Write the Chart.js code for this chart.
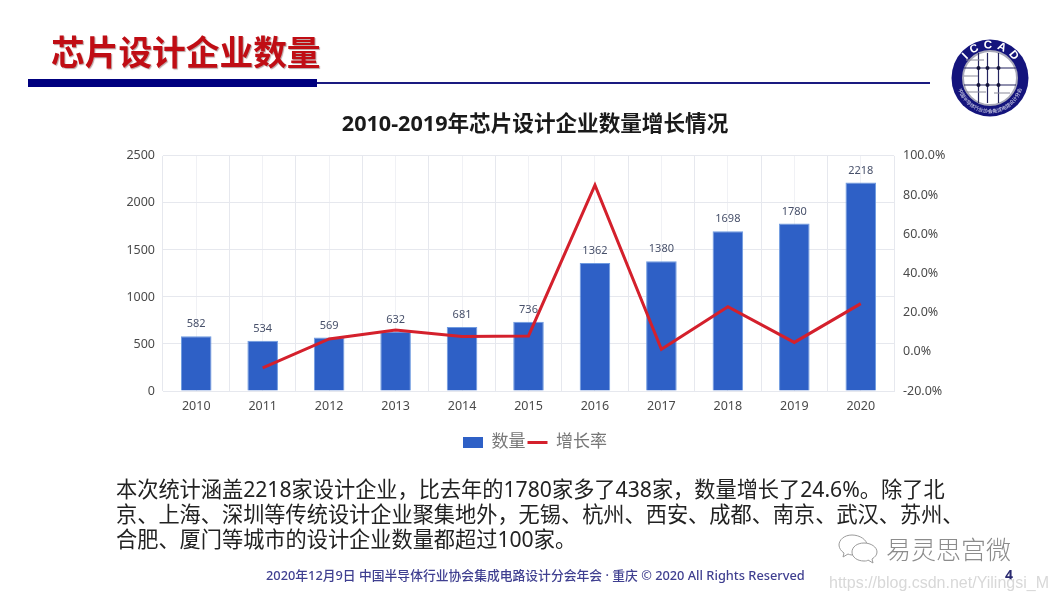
<!DOCTYPE html>
<html lang="zh-CN">
<head>
<meta charset="utf-8">
<title>芯片设计企业数量</title>
<script src="https://cdn.jsdelivr.net/npm/chart.js@4"></script>
<style>
  html, body { margin: 0; padding: 0; background: #fff; }
  body { width: 1057px; height: 602px; overflow: hidden; position: relative; font-family: "Noto Sans", "Noto Sans CJK SC", sans-serif; }
  #page { position: absolute; inset: 0; filter: blur(0.4px); }
  #page > * { position: absolute; }
  #chartBox { left: 100px; top: 112px; width: 870px; height: 349px; }
  #heading { left: 51px; top: 27px; font-family: "Noto Sans CJK SC", sans-serif; font-size: 33.7px; line-height: 48px; font-weight: 700; color: #c00d14; text-shadow: 1px 1px 1px #b9a0a0; white-space: nowrap; }
  #ruleThick { left: 28px; top: 79px; width: 289px; height: 8px; background: #00007f; }
  #ruleThin { left: 317px; top: 82px; width: 613px; height: 2px; background: #1a1a80; }
  #logo { left: 950px; top: 38px; }
  #notes { left: 116px; top: 476px; font-size: 21.2px; line-height: 25px; color: #222; white-space: nowrap; }
  #footer { left: 266px; top: 566px; font-size: 12.8px; line-height: 18px; font-weight: 500; color: #3f3f90; white-space: nowrap; }
  #pageNo { left: 1005px; top: 565px; font-size: 14px; line-height: 20px; font-weight: 700; color: #2a2a70; }
  #wechat { left: 838px; top: 533px; }
  #mark { left: 886px; top: 533px; font-size: 25px; line-height: 32px; color: #8c8c8c; font-weight: 300; text-shadow: 0 0 2px #fff; white-space: nowrap; }
  #link { left: 829px; top: 573px; font-family: "Liberation Sans", sans-serif; font-size: 16px; line-height: 20px; color: #d8d8d8; white-space: nowrap; }
</style>
</head>
<body>
<div id="page">
  <div id="heading">芯片设计企业数量</div>
  <div id="ruleThick"></div>
  <div id="ruleThin"></div>
  <svg id="logo" width="80" height="80" viewBox="0 0 80 80">
    <defs><path id="arcTop" d="M 10.5 40 A 29.5 29.5 0 0 1 69.5 40"></path>
    <path id="arcLow" d="M 7 42 A 33 33 0 0 0 73 42"></path></defs>
    <circle cx="40" cy="40" r="38.5" fill="#14147c"></circle>
    <circle cx="40" cy="40" r="27" fill="#fff" stroke="#a8a8b8" stroke-width="2"></circle>
    <g stroke="#23235f" stroke-width="1.2" fill="none">
      <path d="M 14 30 H 66 M 14 47 H 66 M 28.5 15 V 65 M 37.5 15 V 65 M 48.5 15 V 65"></path>
      <path stroke="#8a8a9a" d="M 16 22 H 34 M 44 55 H 60 M 14 38 H 28 M 16 54 H 36"></path>
    </g>
    <g fill="#14143c"><circle cx="28.5" cy="30" r="2"></circle><circle cx="37.5" cy="30" r="2"></circle><circle cx="48.5" cy="30" r="2"></circle><circle cx="28.5" cy="47" r="2"></circle><circle cx="37.5" cy="47" r="2"></circle><circle cx="48.5" cy="47" r="2"></circle></g>
    <text font-family="Liberation Sans" font-size="11.5" font-weight="700" fill="#fff" letter-spacing="4.5"><textPath href="#arcTop" startOffset="21%">ICCAD</textPath></text>
    <text font-family="Noto Sans CJK SC" font-size="5" fill="#dfe0f0"><textPath href="#arcLow" startOffset="9%">中国半导体行业协会集成电路设计分会</textPath></text>
  </svg>
  <div id="chartBox"><canvas id="growthChart"></canvas></div>
  <div id="notes"></div>
  <div id="footer">2020年12月9日 中国半导体行业协会集成电路设计分会年会 · 重庆 © 2020 All Rights Reserved</div>
  <div id="pageNo">4</div>
  <svg id="wechat" width="44" height="32" viewBox="0 0 44 32">
    <g fill="#fff" stroke="#9a9a9a" stroke-width="1">
      <path d="M 14 2 C 6 2 1 7 1 12 C 1 15 3 18 6 20 L 5 24 L 10 21 C 12 22 14 22 16 22 C 24 22 29 17 29 12 C 29 7 22 2 14 2 Z"></path>
      <path d="M 26 10 C 19 10 14 14 14 19 C 14 24 19 28 26 28 C 28 28 29 28 30 27 L 35 30 L 34 26 C 37 24 39 22 39 19 C 39 14 33 10 26 10 Z"></path>
    </g>
  </svg>
  <div id="mark">易灵思宫微</div>
  <div id="link">https://blog.csdn.net/Yilingsi_M</div>
</div>

<script>
const categories = ["2010", "2011", "2012", "2013", "2014", "2015", "2016", "2017", "2018", "2019", "2020"];
const companyCounts = [582, 534, 569, 632, 681, 736, 1362, 1380, 1698, 1780, 2218];
const growthRates = [null, -8.2, 6.6, 11.1, 7.8, 8.1, 85.1, 1.3, 23.0, 4.8, 24.6];
const noteLines = [
  "本次统计涵盖2218家设计企业，比去年的1780家多了438家，数量增长了24.6%。除了北",
  "京、上海、深圳等传统设计企业聚集地外，无锡、杭州、西安、成都、南京、武汉、苏州、",
  "合肥、厦门等城市的设计企业数量都超过100家。",
];

const fontFamily = '"Noto Sans", "Noto Sans CJK SC", sans-serif';
const gridColor = "#e6e8ee";
const tickColor = "#4a4a4a";

document.querySelector("#notes").innerHTML = noteLines.map((line) => `<div>${line}</div>`).join("");

// value labels above the bars
const barLabels = {
  id: "barLabels",
  afterDatasetsDraw(chart) {
    const ctx = chart.ctx;
    const meta = chart.getDatasetMeta(0);
    ctx.save();
    ctx.font = `11px ${fontFamily}`;
    ctx.fillStyle = "#47506a";
    ctx.textAlign = "center";
    ctx.textBaseline = "middle";
    meta.data.forEach((bar, i) => {
      ctx.fillText(companyCounts[i], bar.x, bar.y - 12);
    });
    ctx.restore();
  },
};

new Chart(document.getElementById("growthChart"), {
  data: {
    labels: categories,
    datasets: [
      {
        type: "bar",
        label: "数量",
        data: companyCounts,
        backgroundColor: "#2e60c6",
        borderColor: "#6f9be0",
        borderWidth: 1,
        barPercentage: 0.46,
        categoryPercentage: 1,
        yAxisID: "y",
        order: 2,
      },
      {
        type: "line",
        label: "增长率",
        data: growthRates,
        borderColor: "#d4202c",
        borderWidth: 3,
        pointRadius: 0,
        tension: 0,
        yAxisID: "y1",
        order: 1,
      },
    ],
  },
  options: {
    responsive: true,
    maintainAspectRatio: false,
    animation: false,
    layout: { padding: 0 },
    plugins: {
      title: {
        display: true,
        text: "2010-2019年芯片设计企业数量增长情况",
        color: "#1a1a1a",
        font: { family: fontFamily, size: 21.6, weight: "bold" },
        padding: { top: 0, bottom: 18 },
      },
      legend: {
        position: "bottom",
        labels: {
          usePointStyle: true,
          pointStyleWidth: 20,
          boxHeight: 11,
          padding: 2,
          color: "#777",
          font: { family: fontFamily, size: 17 },
          sort: (a, b) => a.datasetIndex - b.datasetIndex,
          generateLabels(chart) {
            const items = Chart.defaults.plugins.legend.labels.generateLabels(chart);
            items.forEach((item) => {
              const isBar = item.datasetIndex === 0;
              item.pointStyle = isBar ? "rect" : "line";
              item.lineWidth = isBar ? 0 : 3;
              item.fillStyle = isBar ? "#2e60c6" : "#d4202c";
              item.strokeStyle = isBar ? "#2e60c6" : "#d4202c";
            });
            return items;
          },
        },
      },
      tooltip: { enabled: false },
    },
    scales: {
      x: {
        offset: true,
        grid: { color: gridColor, drawTicks: false },
        border: { color: gridColor },
        ticks: { color: tickColor, font: { family: fontFamily, size: 12.5 }, padding: 8, maxRotation: 0 },
        afterFit(scale) { scale.height = 41; },
      },
      xCenter: {
        type: "category",
        position: "bottom",
        labels: categories,
        offset: true,
        grid: { color: "#f0f1f5", offset: false, drawTicks: false },
        border: { display: false },
        ticks: { display: false },
        afterFit(scale) { scale.height = 0; },
      },
      y: {
        position: "left",
        min: 0,
        max: 2500,
        ticks: {
          stepSize: 500,
          color: tickColor,
          font: { family: fontFamily, size: 12.5 },
          padding: 8,
          callback: (value) => String(value),
        },
        grid: { color: gridColor, drawTicks: false },
        border: { display: false },
        afterFit(scale) { scale.width = 63; },
      },
      y1: {
        position: "right",
        min: -20,
        max: 100,
        ticks: {
          stepSize: 20,
          color: tickColor,
          font: { family: fontFamily, size: 12.5 },
          padding: 9,
          callback: (value) => value.toFixed(1) + "%",
        },
        grid: { display: false, drawTicks: false },
        border: { display: false },
        afterFit(scale) { scale.width = 76; },
      },
    },
  },
  plugins: [barLabels],
});
</script>
</body>
</html>
